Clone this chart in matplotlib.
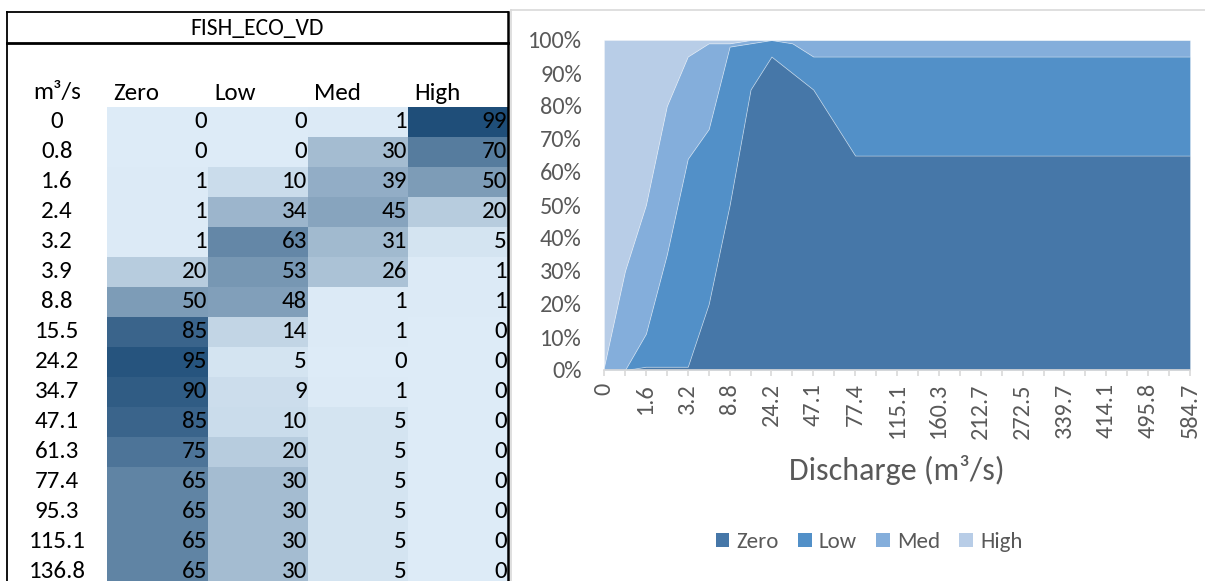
# %%
import numpy as np
import matplotlib.pyplot as plt
from matplotlib.colors import LinearSegmentedColormap
from matplotlib.patches import Patch

plt.rcParams['font.family'] = ['Carlito', 'Lato', 'DejaVu Sans']

# %% data (read off the sheet / chart)
table_title = 'FISH_ECO_VD'
series = ['Zero', 'Low', 'Med', 'High']
discharge = ['0', '0.8', '1.6', '2.4', '3.2', '3.9', '8.8', '15.5', '24.2', '34.7',
             '47.1', '61.3', '77.4', '95.3', '115.1', '136.8', '160.3', '185.7',
             '212.7', '241.6', '272.5', '305.2', '339.7', '376.0', '414.1', '454.0',
             '495.8', '539.4', '584.7']
zero = [0, 0, 1, 1, 1, 20, 50, 85, 95, 90, 85, 75, 65, 65, 65, 65, 65, 65, 65,
        65, 65, 65, 65, 65, 65, 65, 65, 65, 65]
low = [0, 0, 10, 34, 63, 53, 48, 14, 5, 9, 10, 20, 30, 30, 30, 30, 30, 30, 30,
       30, 30, 30, 30, 30, 30, 30, 30, 30, 30]
med = [1, 30, 39, 45, 31, 26, 1, 1, 0, 1, 5, 5, 5, 5, 5, 5, 5, 5, 5,
       5, 5, 5, 5, 5, 5, 5, 5, 5, 5]
high = [99, 70, 50, 20, 5, 1, 1, 0, 0, 0, 0, 0, 0, 0, 0, 0, 0, 0, 0,
        0, 0, 0, 0, 0, 0, 0, 0, 0, 0]
n_rows = 16   # rows visible in the sheet

# %% figure
W, H = 1205, 581
fig = plt.figure(figsize=(W / 100, H / 100), dpi=100)

# sheet part, drawn in pixel coords
tab = fig.add_axes([0, 0, 1, 1])
tab.set_xlim(0, W)
tab.set_ylim(H, 0)
tab.axis('off')

vals = np.array([zero, low, med, high]).T[:n_rows]
cmap = LinearSegmentedColormap.from_list('xl', ['#DDEBF7', '#1F4E79'])
col_edges = np.array([107, 208, 308, 408, 508])
row_edges = 107 + 30 * np.arange(n_rows + 1)
tab.pcolormesh(col_edges, row_edges, vals, cmap=cmap, vmin=0, vmax=99)

fs = 18
for i in range(n_rows):
    yc = (row_edges[i] + row_edges[i + 1]) / 2
    tab.text(57, yc, discharge[i], ha='center', va='center', fontsize=fs)
    for j in range(4):
        tab.text(col_edges[j + 1] - 1, yc, str(vals[i, j]), ha='right', va='center', fontsize=fs)

tab.text(57, 93, 'm³/s', ha='center', va='center', fontsize=fs)
for j, s in enumerate(series):
    tab.text(col_edges[j] + 6, 93, s, ha='left', va='center', fontsize=fs)
tab.text(257, 28, table_title, ha='center', va='center', fontsize=17)

# borders
tab.plot([7, 7], [12, H], color='black', lw=1.3)
tab.plot([508, 508], [12, H], color='black', lw=1.8)
tab.plot([7, 508], [12, 12], color='black', lw=1.3)
tab.plot([7, 508], [43, 43], color='black', lw=2)

# chart frame
tab.plot([511, 511], [10, H], color='#D9D9D9', lw=1.2)
tab.plot([511, W], [10, 10], color='#D9D9D9', lw=1.2)

# %% stacked area chart
colors = ['#4677A8', '#5290C8', '#84AEDB', '#B8CDE7']
txt = '#595959'
ax = fig.add_axes([604 / W, (H - 370) / H, (1190 - 604) / W, (370 - 40) / H])
x = np.arange(len(discharge))
ax.stackplot(x, zero, low, med, high, colors=colors, edgecolor=(1, 1, 1, 0.35), linewidth=0.6)
ax.set_xlim(0, len(discharge) - 1)
ax.set_ylim(0, 100)

ax.set_yticks(range(0, 101, 10))
ax.set_yticklabels([f'{v}%' for v in range(0, 101, 10)])
ax.set_xticks(x, minor=True)
ax.set_xticks(x[::2])
ax.set_xticklabels(discharge[::2], rotation=90)

for s in ['top', 'right', 'left']:
    ax.spines[s].set_visible(False)
ax.spines['bottom'].set_color('#D9D9D9')
ax.spines['bottom'].set_linewidth(1.2)
ax.tick_params(axis='y', length=0, pad=16, labelsize=17.5, labelcolor=txt)
ax.tick_params(axis='x', which='both', length=4.5, color='#D9D9D9', width=1.2)
ax.tick_params(axis='x', which='major', pad=5, labelsize=17.5, labelcolor=txt)

fig.text(897 / W, 1 - 470 / H, 'Discharge (m³/s)', ha='center', va='center',
         fontsize=23, color=txt)

handles = [Patch(facecolor=c, label=s) for c, s in zip(colors, series)]
fig.legend(handles=handles, loc='center', bbox_to_anchor=(869 / W, 1 - 542 / H), ncol=4,
           frameon=False, fontsize=16.5, labelcolor=txt, handlelength=0.6, handleheight=0.6,
           handletextpad=0.3, columnspacing=0.85)

fig.savefig('out.png', dpi=100)
